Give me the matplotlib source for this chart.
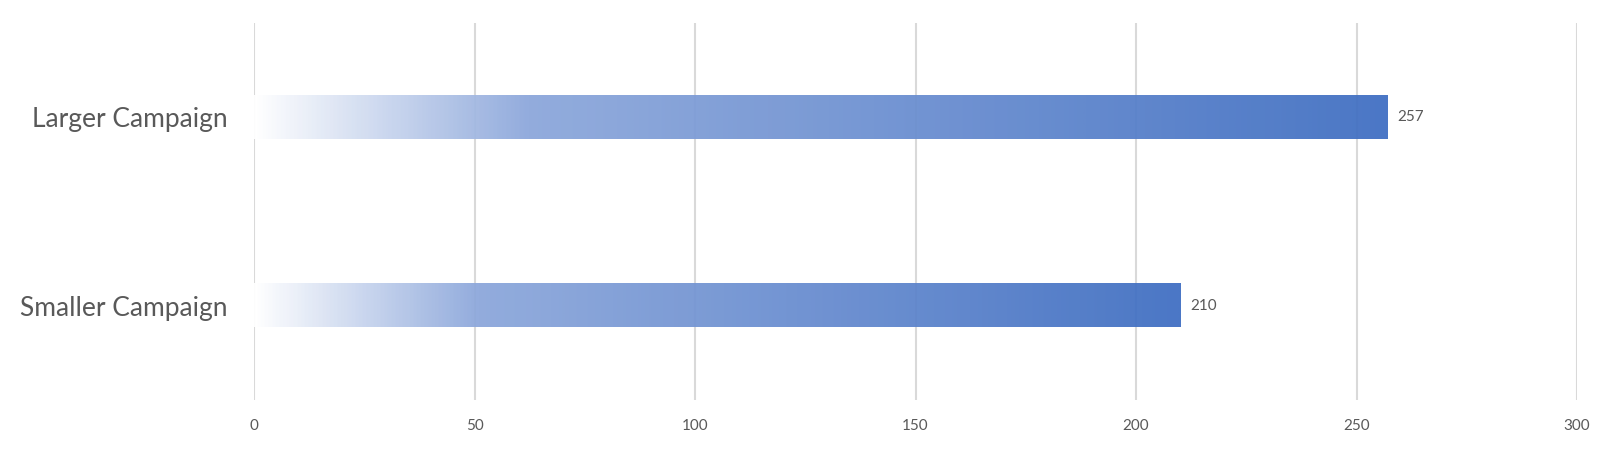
import matplotlib.pyplot as plt
import numpy as np
from matplotlib.colors import LinearSegmentedColormap

categories = ["Smaller Campaign", "Larger Campaign"]
values = [210, 257]
x_ticks = [0, 50, 100, 150, 200, 250, 300]

TEXT = "#595959"
GRID = "#D9D9D9"
FONT = ["Lato", "DejaVu Sans"]

# white -> light blue -> Office blue, stops as fraction of each bar's length
cmap = LinearSegmentedColormap.from_list(
    "bar_grad", [(0.0, "#FFFFFF"), (0.24, "#8CA7DB"), (1.0, "#3F6EC2")])

plt.rcParams["font.family"] = FONT

fig = plt.figure(figsize=(16.15, 4.5), dpi=100)
ax = fig.add_axes([0.1573, 0.111, 0.8192, 0.838])

bar_h = 0.23
grad = np.linspace(0, 1, 512).reshape(1, -1)
for i, v in enumerate(values):
    ax.imshow(grad, cmap=cmap, aspect="auto", interpolation="bilinear",
              extent=(0, v, i - bar_h / 2, i + bar_h / 2), alpha=0.94,
              zorder=2)
    ax.text(v + 2.3, i, str(v), va="center", ha="left", fontsize=11,
            color=TEXT)

ax.set_xlim(0, 300)
ax.set_ylim(-0.5, 1.5)
ax.set_xticks(x_ticks)
ax.set_xticklabels([str(t) for t in x_ticks], fontsize=11, color=TEXT)
ax.set_yticks(range(len(categories)))
ax.set_yticklabels(categories, fontsize=19, color=TEXT)
ax.tick_params(axis="x", length=0, pad=14)
ax.tick_params(axis="y", length=0, pad=19)

ax.xaxis.grid(True, color=GRID, linewidth=1.5, zorder=0)
ax.yaxis.grid(False)
ax.set_axisbelow(True)
for side in ("top", "right", "bottom", "left"):
    ax.spines[side].set_visible(False)

fig.savefig("out.png", dpi=100, facecolor="white")
